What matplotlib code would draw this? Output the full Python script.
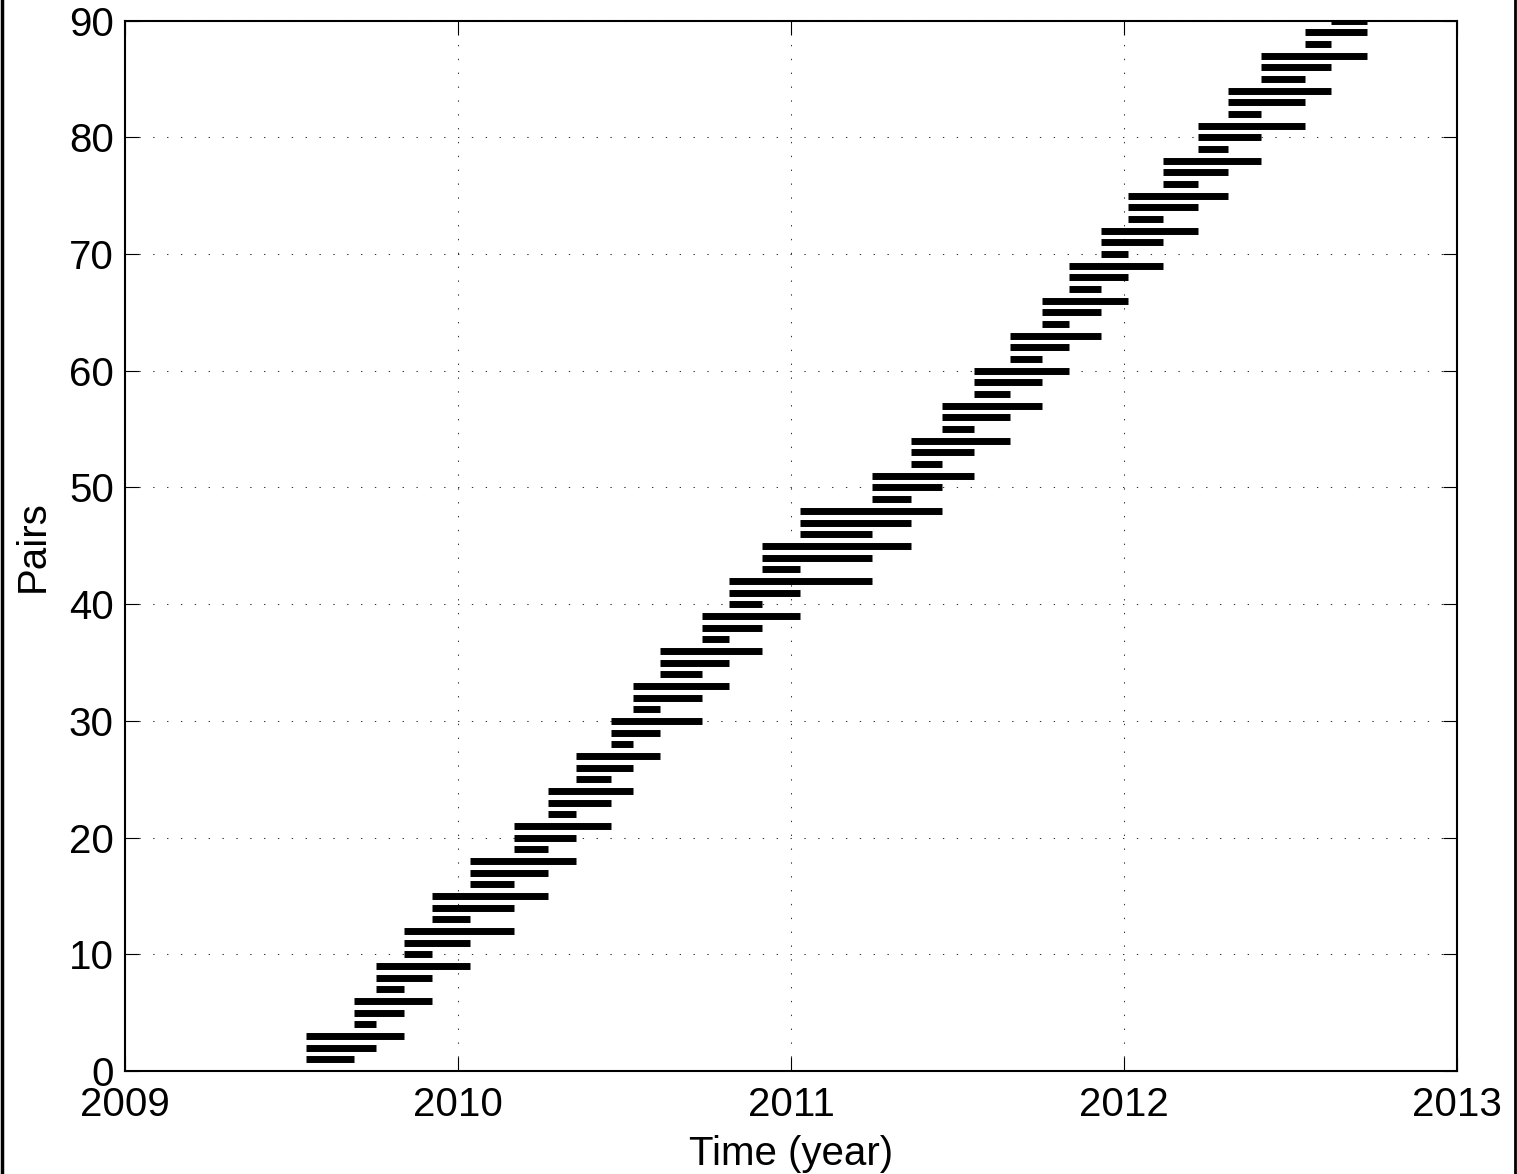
import matplotlib
matplotlib.use("Agg")
import matplotlib.pyplot as plt
from matplotlib.lines import Line2D

# Acquisition dates (decimal year)
acq_dates = [2009.544, 2009.688, 2009.754, 2009.838, 2009.922, 2010.036, 2010.168,
             2010.270, 2010.354, 2010.459, 2010.526, 2010.607, 2010.733, 2010.814,
             2010.913, 2011.026, 2011.242, 2011.359, 2011.455, 2011.549, 2011.658,
             2011.755, 2011.836, 2011.932, 2012.012, 2012.118, 2012.223, 2012.313,
             2012.411, 2012.544, 2012.622, 2012.731]

# Pair i connects acq_dates[pair_first[i]] and acq_dates[pair_second[i]]
pair_first = [0, 0, 0, 1, 1, 1, 2, 2, 2, 3, 3, 3, 4, 4, 4, 5, 5, 5, 6, 6, 6,
              7, 7, 7, 8, 8, 8, 9, 9, 9, 10, 10, 10, 11, 11, 11, 12, 12, 12,
              13, 13, 13, 14, 14, 14, 15, 15, 15, 16, 16, 16, 17, 17, 17,
              18, 18, 18, 19, 19, 19, 20, 20, 20, 21, 21, 21, 22, 22, 22,
              23, 23, 23, 24, 24, 24, 25, 25, 25, 26, 26, 26, 27, 27, 27,
              28, 28, 28, 29, 29, 30]
pair_second = [1, 2, 3, 2, 3, 4, 3, 4, 5, 4, 5, 6, 5, 6, 7, 6, 7, 8, 7, 8, 9,
               8, 9, 10, 9, 10, 11, 10, 11, 12, 11, 12, 13, 12, 13, 14, 13, 14, 15,
               14, 15, 16, 15, 16, 17, 16, 17, 18, 17, 18, 19, 18, 19, 20,
               19, 20, 21, 20, 21, 22, 21, 22, 23, 22, 23, 24, 23, 24, 25,
               24, 25, 26, 25, 26, 27, 26, 27, 28, 27, 28, 29, 28, 29, 30,
               29, 30, 31, 30, 31, 31]

x_ticks = [2009, 2010, 2011, 2012, 2013]
y_ticks = [0, 10, 20, 30, 40, 50, 60, 70, 80, 90]

plt.rcParams['font.family'] = ['Liberation Sans', 'DejaVu Sans']

fig = plt.figure(figsize=(15.17, 11.74), dpi=100)
ax = fig.add_axes([0.0824, 0.0877, 0.8780, 0.8947])

for i, (a, b) in enumerate(zip(pair_first, pair_second)):
    ax.plot([acq_dates[a], acq_dates[b]], [i + 1, i + 1], color='black',
            linewidth=5.0, solid_capstyle='butt', zorder=3)

ax.set_xlim(2009, 2013)
ax.set_ylim(0, 90)
ax.set_xticks(x_ticks)
ax.set_yticks(y_ticks)
ax.set_xticklabels([str(t) for t in x_ticks])
ax.set_yticklabels([str(t) for t in y_ticks])
ax.grid(True, linestyle=(0, (1.3, 12)), color='#333333', linewidth=0.75)
ax.tick_params(direction='in', length=10, width=0.8, top=True, right=True,
               labelsize=29)
ax.tick_params(axis='x', pad=11)
ax.tick_params(axis='y', pad=8)
for s in ax.spines.values():
    s.set_linewidth(1.5)
ax.set_xlabel('Time (year)', fontsize=29, labelpad=8)
ax.set_ylabel('Pairs', fontsize=29, labelpad=12)

fig.add_artist(Line2D([0.001, 0.001], [0, 1], color='black', linewidth=2.5,
                      transform=fig.transFigure))
fig.add_artist(Line2D([0.9985, 0.9985], [0, 1], color='black', linewidth=2.0,
                      transform=fig.transFigure))

fig.savefig('out.png', dpi=100)
